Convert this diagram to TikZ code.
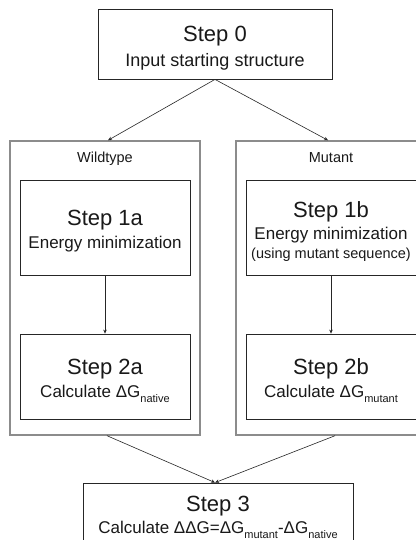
\documentclass[tikz,border=0pt]{standalone}
\usepackage{fontspec}
\setmainfont{Liberation Sans}
\usetikzlibrary{arrows.meta}
\newcommand{\lowtxt}[1]{\raisebox{-5.5pt}{\fontsize{11}{11}\selectfont #1}}
\begin{document}
\begin{tikzpicture}[x=1pt,y=-1pt,
  innerbox/.style={draw=black!85, line width=0.8pt, rectangle, inner sep=0pt, fill=white},
  outerbox/.style={draw=black!45, line width=1.4pt, rectangle, inner sep=0pt},
  headtxt/.style={anchor=base, font=\fontsize{22}{22}\selectfont, inner sep=0pt, text=black!90},
  subtxt/.style={anchor=base, font=\fontsize{17}{17}\selectfont, inner sep=0pt, text=black!90},
  smalltxt/.style={anchor=base, font=\fontsize{14.5}{14.5}\selectfont, inner sep=0pt, text=black!90},
  arr/.style={draw=black!85, line width=0.6pt, -{Stealth[length=4pt,width=3.5pt]}}]
\useasboundingbox (0,0) rectangle (415,540);
\fill[white] (0,0) rectangle (415,540);

% boxes
\node[innerbox, minimum width=234pt, minimum height=70pt] (s0) at (215,44) {};
\node[outerbox, minimum width=190pt, minimum height=294pt] (wt) at (105,288) {};
\node[outerbox, minimum width=190pt, minimum height=294pt] (mu) at (331,288) {};
\node[innerbox, minimum width=170pt, minimum height=95pt] (s1a) at (105,227.5) {};
\node[innerbox, minimum width=170pt, minimum height=95pt] (s1b) at (331,227.5) {};
\node[innerbox, minimum width=170pt, minimum height=85pt] (s2a) at (105,376.5) {};
\node[innerbox, minimum width=170pt, minimum height=85pt] (s2b) at (331,376.5) {};
\node[innerbox, minimum width=270pt, minimum height=77pt] (s3) at (218,521.5) {};

% texts
\node[headtxt] (t0) at (215,42) {Step 0};
\node[subtxt, font=\fontsize{18}{18}\selectfont] (t0b) at (215,67) {Input starting structure};
\node[smalltxt] (twt) at (105,162) {Wildtype};
\node[smalltxt] (tmu) at (331,162) {Mutant};
\node[headtxt] (t1a) at (105,225) {Step 1a};
\node[subtxt] (t1ab) at (105,248) {Energy minimization};
\node[headtxt] (t1b) at (331,217) {Step 1b};
\node[subtxt] (t1bb) at (331,239) {Energy minimization};
\node[smalltxt] (t1bc) at (331,258) {(using mutant sequence)};
\node[headtxt] (t2a) at (105,374) {Step 2a};
\node[subtxt] (t2ab) at (105,397) {Calculate ΔG\lowtxt{native}};
\node[headtxt] (t2b) at (331,374) {Step 2b};
\node[subtxt] (t2bb) at (331,397) {Calculate ΔG\lowtxt{mutant}};
\node[headtxt] (t3) at (218,511) {Step 3};
\node[subtxt] (t3b) at (218,533) {Calculate ΔΔG=ΔG\lowtxt{mutant}-ΔG\lowtxt{native}};

% connectors
\draw[arr] (s0.south) -- ([xshift=3pt]wt.north);
\draw[arr] (s0.south) -- ([xshift=-3pt]mu.north);
\draw[arr] (s1a.south) -- (s2a.north);
\draw[arr] (s1b.south) -- (s2b.north);
\draw[arr] ([xshift=2pt]wt.south) -- ([xshift=-3pt]s3.north);
\draw[arr] ([xshift=4pt]mu.south) -- ([xshift=-3pt]s3.north);
\end{tikzpicture}
\end{document}
